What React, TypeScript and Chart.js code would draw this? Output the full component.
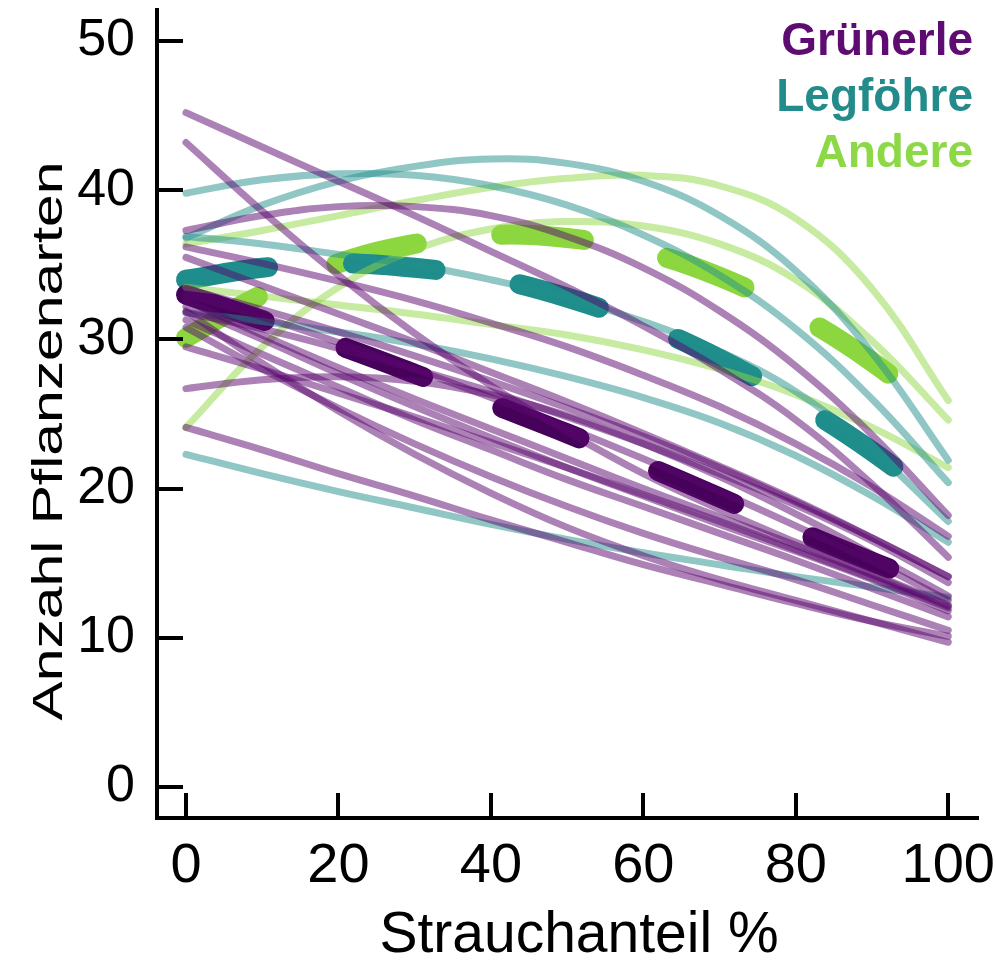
import React, { useEffect, useRef } from 'react';
import { Chart, registerables } from 'chart.js';

Chart.register(...registerables);

// ---------- data ----------
const xValues = [0, 10, 20, 30, 40, 50, 60, 70, 80, 90, 100];
const xTickValues = [0, 20, 40, 60, 80, 100];
const yTickValues = [0, 10, 20, 30, 40, 50];
const groupNames = ['Grünerle', 'Legföhre', 'Andere'];
const xTitle = 'Strauchanteil %';
const yTitle = 'Anzahl Pflanzenarten';

// individual sites, Grünerle
const gruenerleSites = [
  [45.2, 42.9, 40.6, 38.3, 35.9, 33.5, 30.9, 28.0, 24.6, 20.3, 15.4],
  [43.2, 38.6, 34.3, 30.4, 26.9, 23.8, 21.0, 18.6, 16.4, 14.3, 12.2],
  [37.3, 38.3, 38.9, 38.9, 38.3, 36.9, 34.8, 31.9, 28.2, 23.6, 18.2],
  [36.2, 35.1, 33.9, 32.6, 31.1, 29.5, 27.6, 25.5, 23.0, 20.1, 16.8],
  [35.5, 33.6, 31.7, 29.8, 27.8, 25.8, 23.7, 21.5, 19.2, 16.7, 14.1],
  [33.4, 32.0, 30.5, 28.9, 27.2, 25.4, 23.5, 21.4, 19.1, 16.7, 14.1],
  [33.0, 31.5, 29.8, 28.0, 26.1, 24.1, 22.0, 19.8, 17.5, 15.1, 12.5],
  [32.6, 30.3, 28.1, 26.0, 24.0, 22.0, 20.0, 18.1, 16.2, 14.2, 12.1],
  [32.2, 30.0, 27.7, 25.5, 23.4, 21.4, 19.5, 17.6, 15.8, 13.9, 11.8],
  [31.8, 30.7, 29.4, 28.0, 26.5, 24.8, 23.0, 21.0, 18.9, 16.5, 13.7],
  [31.3, 29.0, 26.8, 24.6, 22.6, 20.6, 18.8, 17.0, 15.2, 13.3, 11.4],
  [31.9, 28.4, 25.2, 22.3, 19.7, 17.4, 15.5, 13.9, 12.5, 11.1, 9.7],
  [30.8, 28.0, 25.4, 23.0, 20.8, 18.8, 17.0, 15.4, 13.9, 12.2, 10.5],
  [29.5, 28.0, 26.4, 24.8, 23.1, 21.4, 19.6, 17.8, 15.9, 14.0, 12.0],
  [26.7, 27.3, 27.5, 27.2, 26.3, 24.9, 23.0, 20.8, 18.3, 15.6, 12.8],
  [24.1, 22.6, 21.0, 19.5, 17.9, 16.4, 14.9, 13.6, 12.3, 11.1, 10.1],
];

// individual sites, Legföhre
const legfoehreSites = [
  [36.8, 39.0, 40.6, 41.6, 42.1, 41.8, 40.6, 38.3, 34.6, 29.1, 21.9],
  [39.8, 40.7, 41.1, 41.0, 40.3, 39.0, 37.0, 34.3, 30.7, 26.0, 20.4],
  [36.9, 36.4, 35.7, 35.0, 34.0, 32.8, 31.2, 29.2, 26.5, 22.6, 17.8],
  [31.8, 31.2, 30.5, 29.7, 28.7, 27.5, 26.1, 24.4, 22.2, 19.5, 16.4],
  [22.3, 21.0, 19.8, 18.7, 17.6, 16.6, 15.7, 14.9, 14.1, 13.4, 12.7],
];

// individual sites, Andere
const andereSites = [
  [36.4, 37.3, 38.3, 39.3, 40.2, 40.8, 41.0, 40.3, 38.1, 33.4, 25.9],
  [24.1, 29.5, 33.5, 36.0, 37.4, 37.9, 37.6, 36.4, 34.0, 29.9, 24.6],
  [33.5, 32.9, 32.3, 31.7, 31.0, 30.3, 29.3, 28.0, 26.3, 24.1, 21.4],
];

// group means (dashed)
const gruenerleMean = [33.0, 31.3, 29.6, 27.7, 25.7, 23.7, 21.6, 19.4, 17.2, 15.1, 13.1];
const legfoehreMean = [34.0, 34.8, 35.1, 34.8, 34.1, 32.8, 31.0, 28.7, 25.8, 22.5, 18.6];
const andereMean = [30.1, 33.0, 35.1, 36.4, 37.0, 36.8, 35.9, 34.2, 31.7, 28.5, 24.5];

// ---------- styles ----------
const FONT = '"Liberation Sans", Arial, Helvetica, sans-serif';
const meanColors = ['#46025A', '#1F8D8B', '#8CD63F'];
const siteColors = ['rgba(90, 5, 110, 0.5)', 'rgba(33, 144, 140, 0.5)', 'rgba(143, 215, 68, 0.5)'];
const legendColors = ['#5E0B72', '#238C8A', '#8DD846'];

const toPoints = (ys: number[]) => ys.map((y, i) => ({ x: xValues[i], y }));

const siteDataset = (ys: number[], color: string) => ({
  data: toPoints(ys),
  borderColor: color,
  borderWidth: 7,
  borderCapStyle: 'round' as const,
  borderJoinStyle: 'round' as const,
  pointRadius: 0,
  tension: 0.4,
  fill: false,
});

const meanDataset = (ys: number[], color: string) => ({
  data: toPoints(ys),
  borderColor: color,
  borderWidth: 20,
  borderDash: [83, 85],
  borderCapStyle: 'round' as const,
  borderJoinStyle: 'round' as const,
  pointRadius: 0,
  tension: 0.4,
  fill: false,
});

const decorations = {
  id: 'decorations',
  afterDraw(chart: any) {
    const { ctx, chartArea, scales } = chart;
    const xs = scales.x;
    const ys = scales.y;
    ctx.save();
    // inward tick marks
    ctx.strokeStyle = '#000';
    ctx.lineWidth = 4;
    ctx.lineCap = 'butt';
    ctx.beginPath();
    for (const v of yTickValues) {
      const py = Math.round(ys.getPixelForValue(v));
      ctx.moveTo(chartArea.left, py);
      ctx.lineTo(chartArea.left + 26, py);
    }
    for (const v of xTickValues) {
      const px = Math.round(xs.getPixelForValue(v));
      ctx.moveTo(px, chartArea.bottom);
      ctx.lineTo(px, chartArea.bottom - 25);
    }
    ctx.stroke();

    // x axis title
    ctx.fillStyle = '#000';
    ctx.font = `57px ${FONT}`;
    ctx.textAlign = 'center';
    ctx.textBaseline = 'alphabetic';
    ctx.fillText(xTitle, 579, 952);

    // y axis title
    ctx.save();
    ctx.translate(62, 441);
    ctx.rotate(-Math.PI / 2);
    ctx.scale(1.4, 1);
    ctx.font = `42px ${FONT}`;
    ctx.textAlign = 'center';
    ctx.fillText(yTitle, 0, 0);
    ctx.restore();

    // legend
    ctx.font = `bold 46px ${FONT}`;
    ctx.textAlign = 'right';
    ctx.textBaseline = 'alphabetic';
    groupNames.forEach((name, i) => {
      ctx.fillStyle = legendColors[i];
      ctx.fillText(name, 973, 55 + i * 56);
    });
    ctx.restore();
  },
};

export default function App() {
  const canvasRef = useRef<HTMLCanvasElement | null>(null);

  useEffect(() => {
    const canvas = canvasRef.current;
    if (!canvas) return;

    const datasets: any[] = [
      ...gruenerleSites.map((s) => siteDataset(s, siteColors[0])),
      ...legfoehreSites.map((s) => siteDataset(s, siteColors[1])),
      ...andereSites.map((s) => siteDataset(s, siteColors[2])),
      meanDataset(gruenerleMean, meanColors[0]),
      meanDataset(legfoehreMean, meanColors[1]),
      meanDataset(andereMean, meanColors[2]),
    ];

    const chart = new Chart(canvas, {
      type: 'line',
      data: { datasets },
      options: {
        animation: false,
        responsive: false,
        devicePixelRatio: 1,
        layout: { padding: { left: 0, right: 18, top: 10, bottom: 0 } },
        plugins: {
          legend: { display: false },
          tooltip: { enabled: false },
          title: { display: false },
        },
        scales: {
          x: {
            type: 'linear',
            min: -3.8,
            max: 103.9,
            afterBuildTicks: (s: any) => {
              s.ticks = xTickValues.map((v) => ({ value: v }));
            },
            afterFit: (s: any) => {
              s.height = 147;
              s.paddingLeft = 0;
              s.paddingRight = 0;
              s.paddingTop = 0;
              s.paddingBottom = 0;
            },
            grid: { display: false, drawTicks: false },
            border: { display: true, color: '#000', width: 4 },
            ticks: {
              color: '#000',
              font: { family: FONT, size: 56 },
              padding: 15,
              maxRotation: 0,
              autoSkip: false,
              callback: (v: any) => String(v),
            },
          },
          y: {
            type: 'linear',
            min: -2.08,
            max: 52.08,
            afterBuildTicks: (s: any) => {
              s.ticks = yTickValues.map((v) => ({ value: v }));
            },
            afterFit: (s: any) => {
              s.width = 157;
              s.paddingLeft = 0;
              s.paddingRight = 0;
              s.paddingTop = 0;
              s.paddingBottom = 0;
            },
            grid: { display: false, drawTicks: false },
            border: { display: true, color: '#000', width: 4 },
            ticks: {
              color: '#000',
              font: { family: FONT, size: 52 },
              padding: 22,
              autoSkip: false,
              callback: (v: any) => String(v),
            },
          },
        },
      },
      plugins: [decorations],
    });

    return () => chart.destroy();
  }, []);

  return (
    <div style={{ position: 'absolute', left: 0, top: 0, width: 996, height: 965, background: '#fff' }}>
      <canvas ref={canvasRef} width={996} height={965} style={{ display: 'block' }} />
    </div>
  );
}
